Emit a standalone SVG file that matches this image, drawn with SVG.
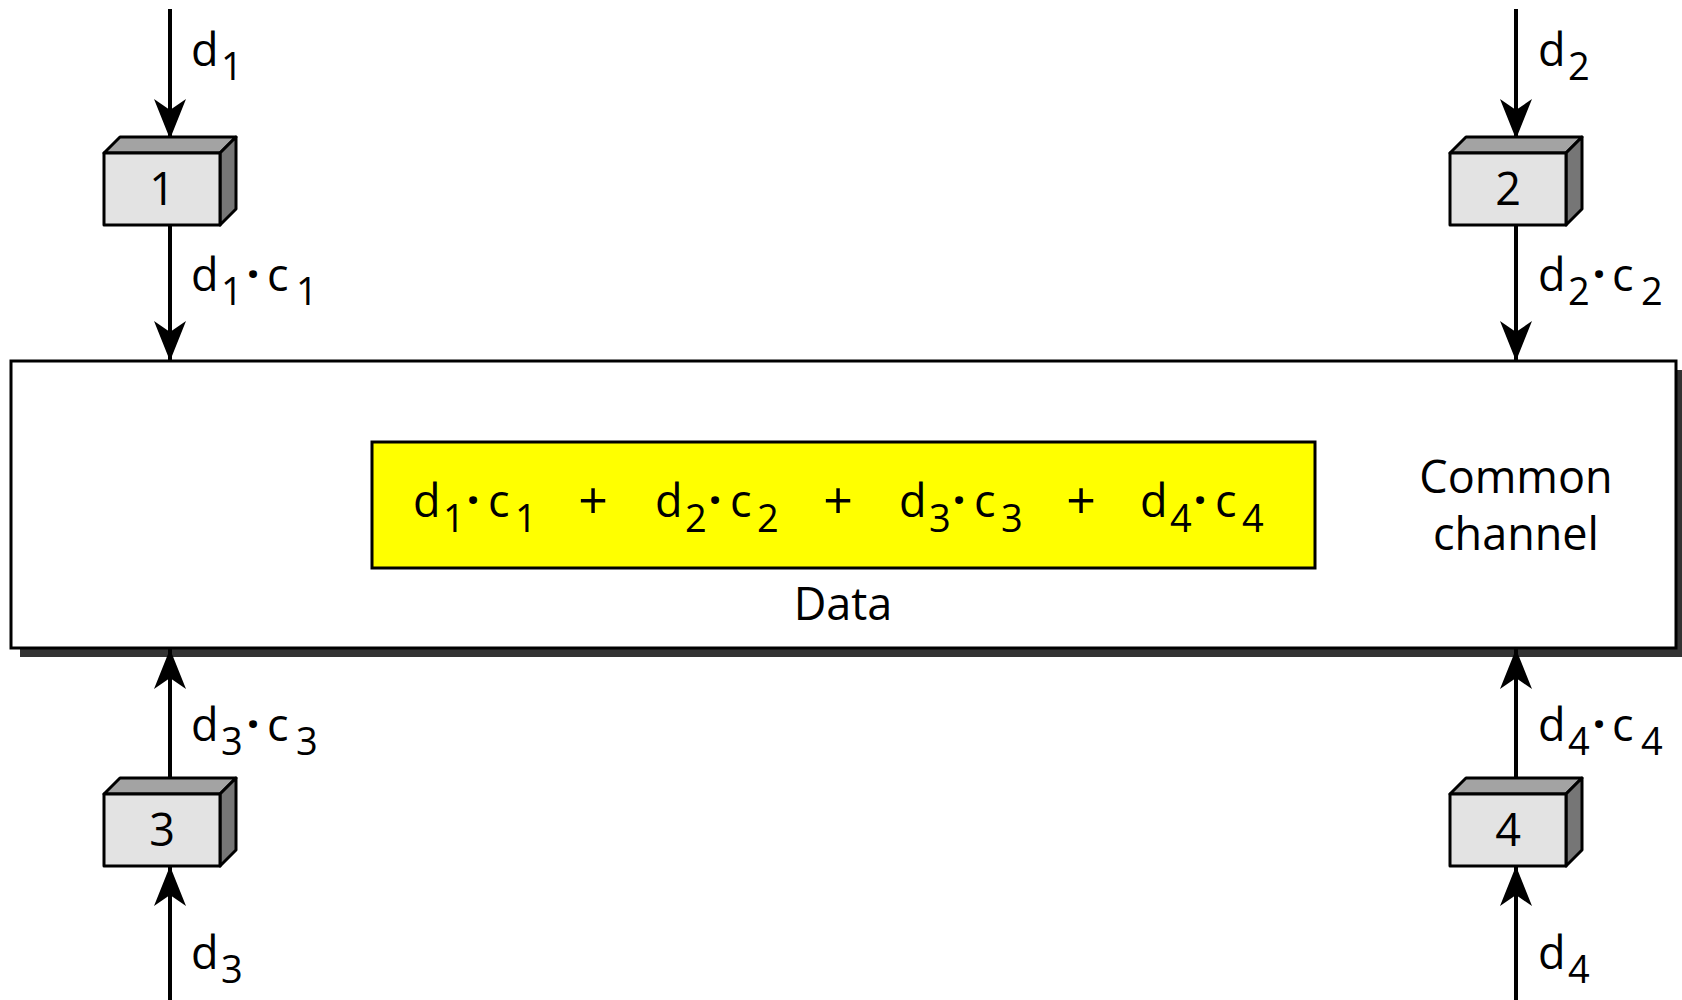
<svg xmlns="http://www.w3.org/2000/svg" width="1682" height="1000" viewBox="0 0 1682 1000">
<style>
.t{font-family:"Open Sans","Noto Sans",sans-serif;font-size:45px;fill:#000}
.s{font-size:38px}
.m{text-anchor:middle}
.p{font-size:52px}
.dt{font-size:46px;font-weight:700}
.ln{stroke:#000;stroke-width:4;fill:none}
.front{fill:#e3e3e3;stroke:#000;stroke-width:3;stroke-linejoin:round}
.top{fill:#a3a3a3;stroke:#000;stroke-width:3;stroke-linejoin:round}
.side{fill:#767676;stroke:#000;stroke-width:3;stroke-linejoin:round}
</style>
<defs>
<marker id="ah" viewBox="0 0 40 32" markerWidth="40" markerHeight="32" refX="40" refY="16" orient="auto" markerUnits="userSpaceOnUse">
<path d="M0,0 L40,16 L0,32 L11,16 Z" fill="#000"/>
</marker>
</defs>
<rect width="1682" height="1000" fill="#fff"/>

<g id="channel">
<rect x="20" y="370" width="1665" height="287" fill="#333"/>
<rect x="11" y="361" width="1665" height="287" fill="#fff" stroke="#000" stroke-width="3"/>
<text class="t m" x="1516" y="493">Common</text>
<text class="t m" x="1516" y="550">channel</text>
</g>

<g id="data">
<rect x="372" y="442" width="943" height="126" fill="#ffff00" stroke="#000" stroke-width="3"/>
<text class="t"><tspan x="413" y="517">d</tspan><tspan class="s" x="443" y="532">1</tspan><tspan class="m dt" x="473" y="517">·</tspan><tspan x="488" y="517">c</tspan><tspan class="s" x="515" y="532">1</tspan></text>
<text class="t m p" x="593" y="519">+</text>
<text class="t"><tspan x="655" y="517">d</tspan><tspan class="s" x="685" y="532">2</tspan><tspan class="m dt" x="715" y="517">·</tspan><tspan x="730" y="517">c</tspan><tspan class="s" x="757" y="532">2</tspan></text>
<text class="t m p" x="838" y="519">+</text>
<text class="t"><tspan x="899" y="517">d</tspan><tspan class="s" x="929" y="532">3</tspan><tspan class="m dt" x="959" y="517">·</tspan><tspan x="974" y="517">c</tspan><tspan class="s" x="1001" y="532">3</tspan></text>
<text class="t m p" x="1081" y="519">+</text>
<text class="t"><tspan x="1140" y="517">d</tspan><tspan class="s" x="1170" y="532">4</tspan><tspan class="m dt" x="1200" y="517">·</tspan><tspan x="1215" y="517">c</tspan><tspan class="s" x="1242" y="532">4</tspan></text>
<text class="t m" x="843" y="620">Data</text>
</g>

<g id="connectors">
<line class="ln" x1="170" y1="9" x2="170" y2="139" marker-end="url(#ah)"/>
<line class="ln" x1="170" y1="225" x2="170" y2="361" marker-end="url(#ah)"/>
<line class="ln" x1="1516" y1="9" x2="1516" y2="139" marker-end="url(#ah)"/>
<line class="ln" x1="1516" y1="225" x2="1516" y2="361" marker-end="url(#ah)"/>
<line class="ln" x1="170" y1="1000" x2="170" y2="866" marker-end="url(#ah)"/>
<line class="ln" x1="170" y1="786" x2="170" y2="649" marker-end="url(#ah)"/>
<line class="ln" x1="1516" y1="1000" x2="1516" y2="866" marker-end="url(#ah)"/>
<line class="ln" x1="1516" y1="786" x2="1516" y2="649" marker-end="url(#ah)"/>
</g>

<g id="labels">
<text class="t"><tspan x="191" y="66">d</tspan><tspan class="s" x="221" y="80">1</tspan></text>
<text class="t"><tspan x="191" y="291">d</tspan><tspan class="s" x="221" y="305">1</tspan><tspan class="m dt" x="253" y="291">·</tspan><tspan x="267" y="291">c</tspan><tspan class="s" x="296" y="305">1</tspan></text>
<text class="t"><tspan x="1538" y="66">d</tspan><tspan class="s" x="1568" y="80">2</tspan></text>
<text class="t"><tspan x="1538" y="291">d</tspan><tspan class="s" x="1568" y="305">2</tspan><tspan class="m dt" x="1599" y="291">·</tspan><tspan x="1612" y="291">c</tspan><tspan class="s" x="1641" y="305">2</tspan></text>
<text class="t"><tspan x="191" y="741">d</tspan><tspan class="s" x="221" y="755">3</tspan><tspan class="m dt" x="253" y="741">·</tspan><tspan x="267" y="741">c</tspan><tspan class="s" x="296" y="755">3</tspan></text>
<text class="t"><tspan x="191" y="969">d</tspan><tspan class="s" x="221" y="983">3</tspan></text>
<text class="t"><tspan x="1538" y="741">d</tspan><tspan class="s" x="1568" y="755">4</tspan><tspan class="m dt" x="1599" y="741">·</tspan><tspan x="1612" y="741">c</tspan><tspan class="s" x="1641" y="755">4</tspan></text>
<text class="t"><tspan x="1538" y="969">d</tspan><tspan class="s" x="1568" y="983">4</tspan></text>
</g>

<g id="node1">
<polygon class="top" points="104,153 120,137 236,137 220,153"/>
<polygon class="side" points="220,153 236,137 236,209 220,225"/>
<rect class="front" x="104" y="153" width="116" height="72"/>
<text class="t m" x="162" y="205">1</text>
</g>
<g id="node2">
<polygon class="top" points="1450,153 1466,137 1582,137 1566,153"/>
<polygon class="side" points="1566,153 1582,137 1582,209 1566,225"/>
<rect class="front" x="1450" y="153" width="116" height="72"/>
<text class="t m" x="1508" y="205">2</text>
</g>
<g id="node3">
<polygon class="top" points="104,794 120,778 236,778 220,794"/>
<polygon class="side" points="220,794 236,778 236,850 220,866"/>
<rect class="front" x="104" y="794" width="116" height="72"/>
<text class="t m" x="162" y="846">3</text>
</g>
<g id="node4">
<polygon class="top" points="1450,794 1466,778 1582,778 1566,794"/>
<polygon class="side" points="1566,794 1582,778 1582,850 1566,866"/>
<rect class="front" x="1450" y="794" width="116" height="72"/>
<text class="t m" x="1508" y="846">4</text>
</g>
</svg>
